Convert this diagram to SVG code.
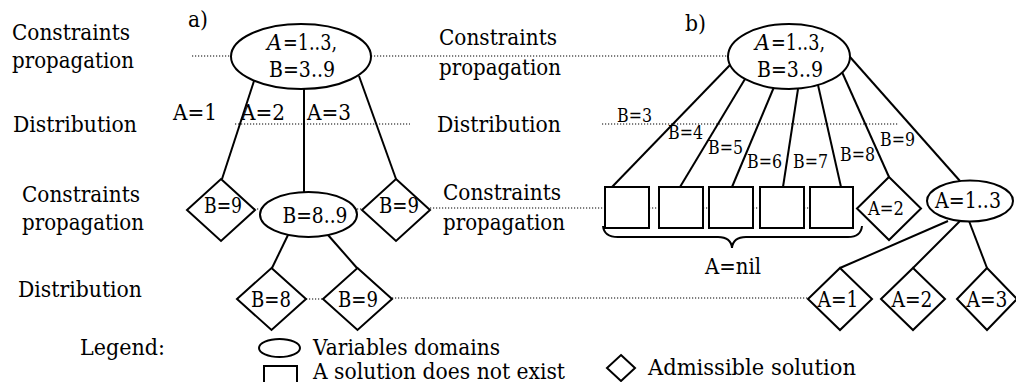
<svg xmlns="http://www.w3.org/2000/svg" width="1016" height="382" viewBox="0 0 1016 382">
  <style>
    text { font-family: "DejaVu Serif", serif; fill: #000; }
    .lbl { font-size: 22.5px; }
    .nd { font-size: 21.5px; }
    .sm { font-size: 18px; }
    .it { font-style: italic; }
    .shape { fill: #fff; stroke: #000; stroke-width: 2; }
    .edge { fill: none; stroke: #000; stroke-width: 2; }
    .dot { fill: none; stroke: #000; stroke-width: 1.2; stroke-dasharray: 1.2 1.8; }
    .mid { text-anchor: middle; }
  </style>
  <rect width="1016" height="382" fill="#fff"/>

  <!-- level guides -->
  <g id="guides">
    <line class="dot" x1="192" y1="56" x2="231" y2="56"/>
    <line class="dot" x1="371" y1="56" x2="728" y2="56"/>
    <line class="dot" x1="235" y1="124" x2="410" y2="124"/>
    <line class="dot" x1="602" y1="124" x2="899" y2="124"/>
    <line class="dot" x1="254" y1="209" x2="260" y2="209"/>
    <line class="dot" x1="357" y1="209" x2="363" y2="209"/>
    <line class="dot" x1="430" y1="208" x2="605" y2="208"/>
    <line class="dot" x1="649" y1="208" x2="659" y2="208"/>
    <line class="dot" x1="703" y1="208" x2="709" y2="208"/>
    <line class="dot" x1="753" y1="208" x2="760" y2="208"/>
    <line class="dot" x1="804" y1="208" x2="810" y2="208"/>
    <line class="dot" x1="306" y1="299" x2="323" y2="299"/>
    <line class="dot" x1="392" y1="298" x2="808" y2="298"/>
  </g>

  <!-- row captions -->
  <g id="captions">
    <text class="lbl" x="12" y="40" textLength="118" lengthAdjust="spacingAndGlyphs">Constraints</text>
    <text class="lbl" x="12" y="68" textLength="122" lengthAdjust="spacingAndGlyphs">propagation</text>
    <text class="lbl" x="13" y="132" textLength="124" lengthAdjust="spacingAndGlyphs">Distribution</text>
    <text class="lbl" x="22" y="202" textLength="118" lengthAdjust="spacingAndGlyphs">Constraints</text>
    <text class="lbl" x="22" y="230" textLength="122" lengthAdjust="spacingAndGlyphs">propagation</text>
    <text class="lbl" x="18" y="297" textLength="124" lengthAdjust="spacingAndGlyphs">Distribution</text>
    <text class="lbl" x="439" y="45" textLength="118" lengthAdjust="spacingAndGlyphs">Constraints</text>
    <text class="lbl" x="439" y="75" textLength="122" lengthAdjust="spacingAndGlyphs">propagation</text>
    <text class="lbl" x="437" y="132" textLength="124" lengthAdjust="spacingAndGlyphs">Distribution</text>
    <text class="lbl" x="443" y="200" textLength="118" lengthAdjust="spacingAndGlyphs">Constraints</text>
    <text class="lbl" x="443" y="230" textLength="122" lengthAdjust="spacingAndGlyphs">propagation</text>
    <text class="lbl" x="188" y="27" textLength="20" lengthAdjust="spacingAndGlyphs">a)</text>
    <text class="lbl" x="685" y="31" textLength="21" lengthAdjust="spacingAndGlyphs">b)</text>
  </g>

  <!-- connectors -->
  <g id="connectors">
    <line class="edge" x1="254" y1="81" x2="222" y2="179"/>
    <line class="edge" x1="304" y1="89" x2="304" y2="192"/>
    <line class="edge" x1="359" y1="76" x2="396" y2="179"/>
    <line class="edge" x1="288" y1="235" x2="272" y2="268"/>
    <line class="edge" x1="328" y1="235" x2="357" y2="268"/>
    <line class="edge" x1="730" y1="65" x2="612" y2="187"/>
    <line class="edge" x1="745" y1="79" x2="680" y2="187"/>
    <line class="edge" x1="774" y1="87" x2="732" y2="187"/>
    <line class="edge" x1="798" y1="89" x2="783" y2="187"/>
    <line class="edge" x1="818" y1="85" x2="841" y2="187"/>
    <line class="edge" x1="842" y1="72" x2="889" y2="177"/>
    <line class="edge" x1="850" y1="57" x2="960" y2="181"/>
    <line class="edge" x1="948" y1="221" x2="840" y2="268"/>
    <line class="edge" x1="960" y1="221" x2="913" y2="268"/>
    <line class="edge" x1="969" y1="221" x2="987" y2="268"/>
    <!-- branch labels -->
    <text class="lbl" x="173" y="120" textLength="44" lengthAdjust="spacingAndGlyphs">A=1</text>
    <text class="lbl" x="241" y="120" textLength="44" lengthAdjust="spacingAndGlyphs">A=2</text>
    <text class="lbl" x="307" y="120" textLength="44" lengthAdjust="spacingAndGlyphs">A=3</text>
    <text class="sm" x="617" y="122" textLength="35" lengthAdjust="spacingAndGlyphs">B=3</text>
    <text class="sm" x="668" y="139" textLength="35" lengthAdjust="spacingAndGlyphs">B=4</text>
    <text class="sm" x="708" y="154" textLength="35" lengthAdjust="spacingAndGlyphs">B=5</text>
    <text class="sm" x="747" y="168" textLength="35" lengthAdjust="spacingAndGlyphs">B=6</text>
    <text class="sm" x="793" y="168" textLength="35" lengthAdjust="spacingAndGlyphs">B=7</text>
    <text class="sm" x="840" y="161" textLength="35" lengthAdjust="spacingAndGlyphs">B=8</text>
    <text class="sm" x="880" y="146" textLength="35" lengthAdjust="spacingAndGlyphs">B=9</text>
  </g>

  <!-- tree a -->
  <g id="a-root">
    <ellipse class="shape" cx="301" cy="56.5" rx="70" ry="32.5"/>
    <text class="nd it" x="267" y="50" textLength="15" lengthAdjust="spacingAndGlyphs">A</text>
    <text class="nd" x="283" y="50" textLength="54" lengthAdjust="spacingAndGlyphs">=1..3,</text>
    <text class="nd mid" x="302" y="77" textLength="66" lengthAdjust="spacingAndGlyphs">B=3..9</text>
  </g>
  <g id="a-b9-left">
    <polygon class="shape" points="221,179 255,210 221,241 187,210"/>
    <text class="nd mid" x="223" y="213" textLength="38" lengthAdjust="spacingAndGlyphs">B=9</text>
  </g>
  <g id="a-b89">
    <ellipse class="shape" cx="308.5" cy="214.5" rx="48.5" ry="22.5"/>
    <text class="nd mid" x="315" y="223" textLength="65" lengthAdjust="spacingAndGlyphs">B=8..9</text>
  </g>
  <g id="a-b9-right">
    <polygon class="shape" points="396,179 430,210 396,241 362,210"/>
    <text class="nd mid" x="399" y="213" textLength="40" lengthAdjust="spacingAndGlyphs">B=9</text>
  </g>
  <g id="a-b8">
    <polygon class="shape" points="271.5,268 306,299 271.5,330 237,299"/>
    <text class="nd mid" x="271" y="307" textLength="40" lengthAdjust="spacingAndGlyphs">B=8</text>
  </g>
  <g id="a-b9">
    <polygon class="shape" points="357.5,268 392,299 357.5,330 323,299"/>
    <text class="nd mid" x="358" y="307" textLength="40" lengthAdjust="spacingAndGlyphs">B=9</text>
  </g>

  <!-- tree b -->
  <g id="b-root">
    <ellipse class="shape" cx="789" cy="56.5" rx="61" ry="32.5"/>
    <text class="nd it" x="755" y="50" textLength="15" lengthAdjust="spacingAndGlyphs">A</text>
    <text class="nd" x="771" y="50" textLength="54" lengthAdjust="spacingAndGlyphs">=1..3,</text>
    <text class="nd mid" x="790" y="77" textLength="66" lengthAdjust="spacingAndGlyphs">B=3..9</text>
  </g>
  <g id="b-b3"><rect class="shape" x="605" y="187" width="44" height="41"/></g>
  <g id="b-b4"><rect class="shape" x="659" y="187" width="44" height="41"/></g>
  <g id="b-b5"><rect class="shape" x="709" y="187" width="44" height="41"/></g>
  <g id="b-b6"><rect class="shape" x="760" y="187" width="44" height="41"/></g>
  <g id="b-b7"><rect class="shape" x="810" y="187" width="43" height="41"/></g>
  <g id="b-nil">
    <path class="edge" d="M603,226 Q604,237 618,237 L718,237 Q731,237 732,248 Q733,237 746,237 L848,237 Q861,237 862,226"/>
    <text class="nd mid" x="733" y="274" textLength="56" lengthAdjust="spacingAndGlyphs">A=nil</text>
  </g>
  <g id="b-a2">
    <polygon class="shape" points="889,177 921,208.5 889,240 857,208.5"/>
    <text class="sm mid" x="886" y="215" textLength="36" lengthAdjust="spacingAndGlyphs">A=2</text>
  </g>
  <g id="b-a13">
    <ellipse class="shape" cx="970" cy="201" rx="43" ry="20.5"/>
    <text class="nd mid" x="968" y="208" textLength="66" lengthAdjust="spacingAndGlyphs">A=1..3</text>
  </g>
  <g id="b-a1">
    <polygon class="shape" points="840,268 872,299 840,330 808,299"/>
    <text class="nd mid" x="838" y="307" textLength="41" lengthAdjust="spacingAndGlyphs">A=1</text>
  </g>
  <g id="b-a2b">
    <polygon class="shape" points="913,268 945,299 913,330 881,299"/>
    <text class="nd mid" x="912" y="307" textLength="41" lengthAdjust="spacingAndGlyphs">A=2</text>
  </g>
  <g id="b-a3">
    <polygon class="shape" points="987,268 1017,299 987,330 957,299"/>
    <text class="nd mid" x="987" y="307" textLength="41" lengthAdjust="spacingAndGlyphs">A=3</text>
  </g>

  <!-- legend -->
  <g id="legend">
    <text class="lbl" x="80" y="355" textLength="85" lengthAdjust="spacingAndGlyphs">Legend:</text>
    <ellipse class="shape" cx="279.5" cy="348" rx="20.5" ry="9"/>
    <text class="lbl" x="313" y="355" textLength="187" lengthAdjust="spacingAndGlyphs">Variables domains</text>
    <path class="edge" d="M264,392 L264,366 L297,366 L297,392"/>
    <text class="lbl" x="313" y="379" textLength="252" lengthAdjust="spacingAndGlyphs">A solution does not exist</text>
    <polygon class="shape" points="621,355 635,368 621,381 607,368"/>
    <text class="lbl" x="648" y="375" textLength="208" lengthAdjust="spacingAndGlyphs">Admissible solution</text>
  </g>
</svg>
